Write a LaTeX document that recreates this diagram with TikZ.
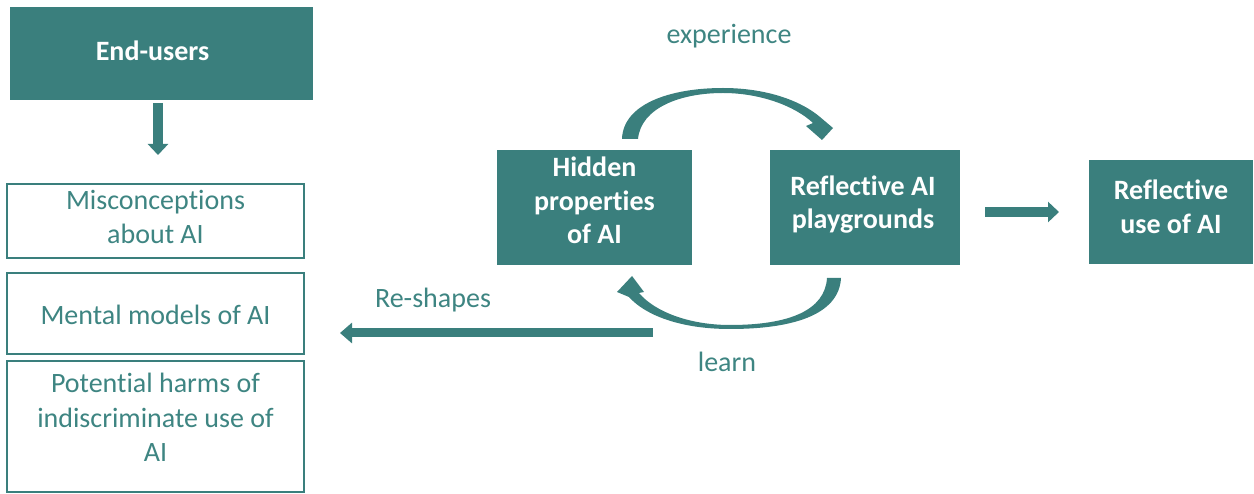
\documentclass[tikz,border=0pt]{standalone}
\usepackage{fontspec}
\setmainfont{Carlito}[Ligatures=NoCommon]
\usetikzlibrary{arrows.meta,calc}
\definecolor{teal1}{RGB}{58,127,125}
\definecolor{tealtext}{RGB}{62,133,130}
\begin{document}
\begin{tikzpicture}[x=1pt,y=-1pt,
  every node/.style={font=\fontsize{28}{34}\selectfont},
  filled/.style={draw=none, fill=teal1, inner sep=0pt},
  outlined/.style={draw=teal1, line width=1.2pt, fill=white, inner sep=0pt},
  wtxt/.style={text=white, font=\fontsize{28}{33.5}\selectfont\bfseries, align=center, inner sep=0pt},
  ttxt/.style={text=tealtext, font=\fontsize{28}{34.5}\selectfont, align=center, inner sep=0pt},
  lab/.style={text=tealtext, inner sep=0pt},
  blockarrow/.style={draw=teal1, line width=10pt, -{Triangle[length=11pt,width=20pt]}},
  curvearrow/.style={fill=teal1, draw=none},
]
\useasboundingbox (0,0) rectangle (1254,494);

% left column
\node[filled, minimum width=303pt, minimum height=93pt,
  label={[wtxt, xshift=-9pt, yshift=3pt]center:End-users}] (eu) at (161.5,53.5) {};
\node[outlined, minimum width=297pt, minimum height=74pt,
  label={[ttxt, yshift=4pt]center:Misconceptions\\about AI}] (mis) at (155.5,221) {};
\node[outlined, minimum width=297pt, minimum height=81pt,
  label={[ttxt, yshift=-1pt]center:Mental models of AI}] (men) at (155.5,313.5) {};
\node[outlined, minimum width=297pt, minimum height=131pt,
  label={[ttxt, yshift=9pt]center:Potential harms of\\indiscriminate use of\\AI}] (pot) at (155.5,426.5) {};

% middle / right boxes
\node[filled, minimum width=195pt, minimum height=115pt,
  label={[wtxt, yshift=7pt]center:Hidden\\properties\\of AI}] (hid) at (594.5,207.5) {};
\node[filled, minimum width=190pt, minimum height=115pt,
  label={[wtxt, xshift=-2pt, yshift=3pt]center:Reflective AI\\playgrounds}] (play) at (865,207.5) {};
\node[filled, minimum width=164pt, minimum height=104pt,
  label={[wtxt, yshift=5pt]center:Reflective\\use of AI}] (use) at (1171,212) {};

% labels
\node[lab] (lexp) at (729,36) {experience};
\node[lab] (llearn) at (727,362) {learn};
\node[lab] (lres) at (433,300) {Re-shapes};

% straight block arrows
\coordinate (d1) at (158,103);
\coordinate (d2) at (158,155);
\draw[blockarrow] (d1) -- (d2);

\coordinate (r1) at (985,212);
\coordinate (r2) at (1059,212);
\draw[blockarrow] (r1) -- (r2);

\coordinate (s1) at (653,333);
\coordinate (s2) at (340,333);
\draw[blockarrow, line width=9pt, -{Triangle[length=12pt,width=20pt]}] (s1) -- (s2);

% curved arrow: experience (top)
\fill[curvearrow] (622,139) .. controls (623,104) and (670,88) .. (723,88)
  .. controls (765,88) and (800,100) .. (820,117)
  -- (833,128) -- (822,140) -- (806,126) -- (813,123)
  .. controls (795,106) and (760,93) .. (723,93)
  .. controls (680,93) and (641,108) .. (638,139) -- cycle;

% curved arrow: learn (bottom)
\fill[curvearrow] (841,278) .. controls (839,316) and (790,329) .. (730,329)
  .. controls (680,329) and (645,315) .. (629,297)
  -- (617,292) -- (632,276) -- (644,292) -- (639,293)
  .. controls (655,312) and (690,325) .. (730,325)
  .. controls (790,325) and (825,310) .. (827,278) -- cycle;
\end{tikzpicture}
\end{document}
